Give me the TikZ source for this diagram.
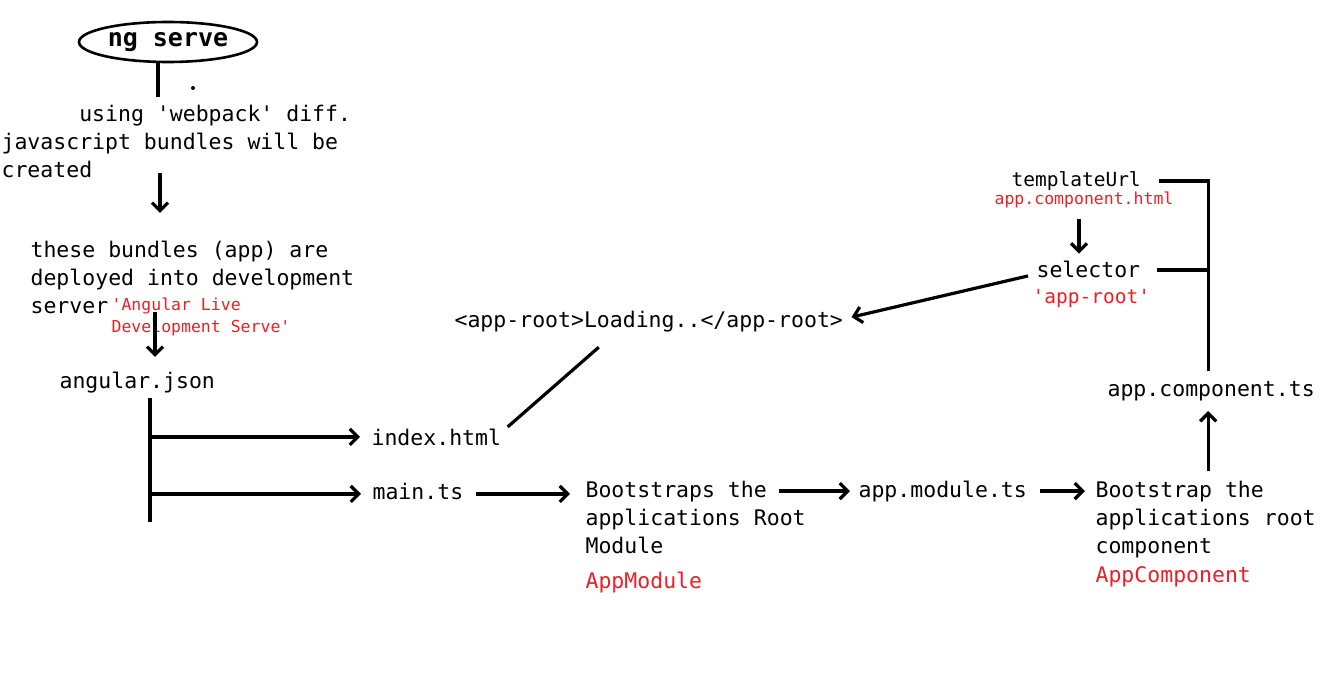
\documentclass[tikz,border=0pt]{standalone}
\usepackage{fontspec}
\setmonofont{DejaVu Sans Mono}
\usetikzlibrary{arrows.meta,shapes.geometric}
\definecolor{labelred}{RGB}{236,30,40}

\begin{document}
\begin{tikzpicture}[x=1pt, y=-1pt, line width=3.2pt,
  every node/.style = {inner sep=0pt, align=left, anchor=base west,
    font=\ttfamily\fontsize{21.5}{28}\selectfont},
  redlabel/.style = {text=labelred},
  smalltext/.style = {font=\ttfamily\fontsize{16.5}{22}\selectfont},
  midtext/.style = {font=\ttfamily\fontsize{19.5}{24}\selectfont},
  flow/.style = {-{Straight Barb[length=8pt,width=16pt]}}]
  \useasboundingbox (0,0) rectangle (1334,695);

  % left column
  \node[ellipse, draw, line width=2.6pt, anchor=center, minimum width=178pt, minimum height=40pt,
    font=\ttfamily\bfseries\fontsize{25}{30}\selectfont] (serve) at (168,42) {\raisebox{-2pt}{ng serve}};
  \node (webpack) at (0,178) {\phantom{xxxxxx}using 'webpack' diff.\\javascript bundles will be\\created};
  \node (bundles) at (29,313) {these bundles (app) are\\deployed into development\\server};
  \node[redlabel, smalltext] (liveserve) at (110,332) {'Angular Live\\Development Serve'};
  \node (angular) at (58,388) {angular.json};
  \node (index) at (370,445) {index.html};
  \node (main) at (371,499) {main.ts};

  % middle and right
  \node (approot) at (453,327) {<app-root>Loading..</app-root>};
  \node (boot) at (584,553) {Bootstraps the\\applications Root\\Module};
  \node[redlabel] (appmodule) at (584,588) {AppModule};
  \node (module) at (857,497) {app.module.ts};
  \node (bootc) at (1094,553) {Bootstrap the\\applications root\\component};
  \node[redlabel] (appcomp) at (1094,582) {AppComponent};
  \node (comp) at (1106,396) {app.component.ts};
  \node[midtext] (templ) at (1010,186.5) {templateUrl};
  \node[redlabel, smalltext] (templhtml) at (993,204.5) {app.component.html};
  \node (sel) at (1035,278) {selector};
  \node[redlabel, midtext] (selname) at (1031,303.5) {'app-root'};

  \coordinate (trunk) at (150,398);

  \draw ([xshift=-10]serve.south) -- ++(0,34);
  \fill (193,88) circle (2pt);
  \draw[flow] (webpack.south west) ++(160,-7) -- ++(0,40);
  \draw[flow] (bundles.south west) ++(126,-3) -- ++(0,45);
  \draw (trunk) -- ++(0,124);
  \draw[flow] (trunk |- index.west) -- ([xshift=-10]index.west);
  \draw[flow] (trunk |- main.west) ++(0,3) -- ([xshift=-10,yshift=-3]main.west);
  \draw ([xshift=5]index.north east) -- ([xshift=-50,yshift=-14]approot.south);
  \draw[flow] ([xshift=11,yshift=-3]main.east) -- ([xshift=-14,yshift=-3]main.east -| boot.west);
  \draw[flow] ([xshift=-78]module.west) -- ([xshift=-7]module.west);
  \draw[flow] ([xshift=12]module.east) -- ([xshift=-9]module.east -| bootc.west);
  \draw[flow] ([xshift=-3,yshift=-69pt]comp.south) -- ([xshift=-3,yshift=-9pt]comp.south);
  \draw ([xshift=17]templ.east) -- ([xshift=-3]templ.east -| comp.north) -- ([xshift=-3,yshift=8pt]comp.north);
  \draw ([xshift=15]sel.east) -- ([xshift=-3]sel.east -| comp.north);
  \draw[flow] ([xshift=-5,yshift=-9pt]templhtml.south) -- ++(0,35);
  \draw[flow] ([xshift=-7,yshift=-6]sel.west) -- ([xshift=7,yshift=4]approot.east);
\end{tikzpicture}
\end{document}
